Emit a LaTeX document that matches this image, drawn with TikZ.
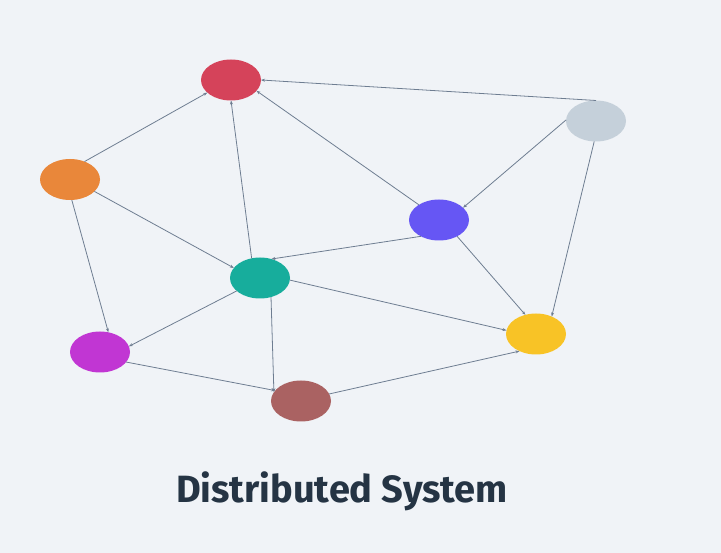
\documentclass[tikz,border=0pt]{standalone}
\usepackage{fontspec}
\setmainfont{Fira Sans}
\definecolor{bgcol}{HTML}{F0F3F7}
\definecolor{edgecol}{HTML}{6E7D91}
\definecolor{titlecol}{HTML}{253444}
\definecolor{nred}{HTML}{D5435A}
\definecolor{ngrey}{HTML}{C5D0DA}
\definecolor{norange}{HTML}{E9873A}
\definecolor{nblue}{HTML}{6656F4}
\definecolor{nteal}{HTML}{17AD9C}
\definecolor{nyellow}{HTML}{F8C326}
\definecolor{nmagenta}{HTML}{C136D3}
\definecolor{nbrown}{HTML}{AA6262}
\tikzset{
  peer/.style={ellipse, minimum width=60pt, minimum height=41pt, inner sep=0pt, outer sep=0pt},
  link/.style={draw=edgecol, line width=0.8pt, -{Stealth[length=4pt,width=3pt]}}
}
\usetikzlibrary{shapes.geometric,arrows.meta}
\begin{document}
\begin{tikzpicture}[x=1pt,y=-1pt]
  \fill[bgcol] (0,0) rectangle (721,553);
  \useasboundingbox (0,0) rectangle (721,553);

  % peers
  \node[peer, fill=nred] (red) at (231,80) {};
  \node[peer, fill=ngrey] (grey) at (596,121) {};
  \node[peer, fill=norange] (orange) at (70,179.5) {};
  \node[peer, fill=nblue] (blue) at (439,220) {};
  \node[peer, fill=nteal] (teal) at (260,278) {};
  \node[peer, fill=nyellow] (yellow) at (536,334) {};
  \node[peer, fill=nmagenta] (magenta) at (100,352) {};
  \node[peer, fill=nbrown] (brown) at (301,401) {};

  % links
  \draw[link] (grey.north) -- (red.east);
  \draw[link] (orange.51) -- (red.208);
  \draw[link] (teal.113) -- (red.south);
  \draw[link] (blue.143) -- (red.337);
  \draw[link] (grey.178) -- (blue.27);
  \draw[link] (grey.265) -- (yellow.48);
  \draw[link] (orange.334) -- (teal.159);
  \draw[link] (orange.275) -- (magenta.67);
  \draw[link] (blue.222) -- (teal.59);
  \draw[link] (blue.318) -- (yellow.119);
  \draw[link] (teal.356) -- (yellow.173);
  \draw[link] (teal.209) -- (magenta.11);
  \draw[link] (teal.300) -- (brown.162);
  \draw[link] (magenta.339) -- (brown.158);
  \draw[link] (brown.14) -- (yellow.226);

  \node[font=\fontsize{38}{44}\selectfont\bfseries, text=titlecol, anchor=base, inner sep=0pt] (title) at (342,503) {Distributed System};
\end{tikzpicture}
\end{document}
